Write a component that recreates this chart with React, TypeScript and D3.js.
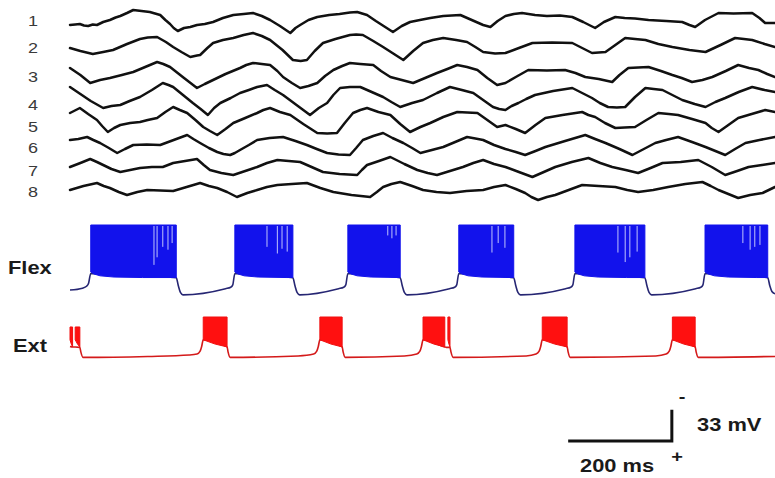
import React from 'react';
import * as d3 from 'd3';

// ---------- DATA ----------
// time axis (ms)
const timeDomain: [number, number] = [0, 1360];

const channelLabels = ['1', '2', '3', '4', '5', '6', '7', '8'];

// EEG-like traces: [time ms, amplitude (a.u., up positive)]
const trace1: [number, number][] = [[0,-5],[10,-4.5],[19,-4],[27,-5.5],[35,-6],[44,-4.5],[52,-5],[64,-2],[77,0],[88,2.5],[97,4],[110,7],[122,10],[138,9],[154,8],[164,6.5],[174,5],[184,0],[193,-4],[200,-8],[208,-11],[220,-8],[232,-7],[245,-5],[260,-4],[276,-2],[295,2],[315,5],[335,6],[353,7],[370,4],[386,0],[405,-6],[425,-13],[435,-8],[444,-5],[460,0],[477,3],[500,5],[520,6],[540,7.5],[554,8],[573,5],[590,-1],[605,-6],[623,-12],[640,-6],[656,-2],[675,0],[695,2],[720,4],[753,5],[775,0],[797,-5],[811,-7],[825,-1],[840,4],[856,6],[872,7],[897,5],[920,4],[945,4.5],[969,3],[990,-2],[1013,-8],[1030,-2],[1052,3],[1070,2],[1090,1.5],[1116,0],[1150,-1],[1181,-2],[1195,-5],[1206,-7],[1225,0],[1251,7],[1280,6.5],[1316,7],[1330,2],[1341,-3],[1360,-3]];
const trace2: [number, number][] = [[0,-3],[20,-6],[44,-9],[64,-7],[83,-5],[110,1],[135,6],[150,7.5],[168,8],[185,3],[199,-2],[215,-7],[232,-12],[245,-10.5],[251,-10],[265,-3],[276,2],[295,5],[315,7],[335,10],[353,12],[370,9],[386,5],[410,-5],[430,-15],[445,-16],[457,-15],[472,-6],[488,2],[512,6],[540,10],[552,10.5],[565,10],[585,4],[604,-2],[625,-9],[643,-15],[662,-6],[681,2],[700,5],[720,7],[745,5],[766,3],[782,-2],[797,-7],[820,-8.5],[840,-8],[866,-3],[892,2],[930,2.5],[969,2],[988,-3],[1007,-8],[1020,-7.5],[1033,-7],[1052,0],[1071,7],[1090,6],[1110,5],[1135,1],[1162,-2],[1195,-5],[1226,-7],[1255,0],[1283,7],[1300,6],[1316,5],[1340,1],[1360,-2]];
const trace3: [number, number][] = [[0,7],[20,0],[39,-8],[58,-5],[77,-3],[100,0],[122,3],[145,8],[168,13],[180,11],[193,8],[220,-3],[245,-13],[260,-9],[276,-5],[300,1],[328,7],[340,10],[353,12],[370,11],[386,10],[400,4],[411,-2],[428,-8],[444,-13],[460,-11],[477,-8],[492,-1],[508,5],[525,9],[540,12],[560,11],[585,10],[600,4],[618,-2],[640,-5],[662,-8],[685,-3],[708,2],[728,6],[747,10],[766,8],[786,5],[805,-3],[824,-10],[832,-9],[840,-8],[860,-2],[884,5],[920,4.5],[955,5],[975,2],[994,-2],[1020,-4],[1046,-7],[1060,0],[1077,7],[1096,7.5],[1116,8],[1140,4],[1162,0],[1180,-3],[1200,-7],[1220,-5],[1239,-2],[1265,4],[1289,10],[1310,7],[1328,5],[1345,1],[1360,-2]];
const trace4: [number, number][] = [[0,10],[20,3],[40,-4],[64,-11],[80,-9],[97,-8],[115,-4],[135,0],[158,7],[179,14],[190,12],[199,10],[218,2],[237,-6],[252,-12],[266,-18],[278,-11],[290,-6],[310,-1],[328,4],[345,7],[361,10],[380,12],[395,7],[411,2],[437,-8],[463,-18],[480,-11],[496,-6],[508,2],[521,9],[540,10],[560,10],[582,5],[604,0],[620,-5],[637,-10],[660,-6],[681,-3],[708,4],[733,10],[756,7],[778,4],[797,-3],[816,-10],[828,-12],[840,-13],[852,-9],[865,-6],[880,-2],[897,2],[932,6],[969,9],[988,4],[1007,-1],[1022,-6],[1038,-10],[1055,-10.5],[1071,-10],[1090,0],[1110,9],[1126,8],[1143,7],[1162,2],[1181,-3],[1205,-7],[1226,-10],[1245,-5],[1264,-1],[1290,5],[1316,10],[1340,7],[1360,5]];
const trace5: [number, number][] = [[0,7],[19,12],[35,6],[52,0],[62,-6],[73,-12],[85,-8],[97,-5],[116,-3],[135,-2],[150,0],[168,2],[184,8],[199,13],[212,10],[226,7],[242,0],[257,-7],[270,-11],[284,-15],[300,-9],[315,-3],[338,2],[361,7],[373,10],[386,12],[405,8],[425,5],[450,-4],[477,-13],[496,-13.5],[515,-13],[530,-3],[546,7],[560,10],[573,12],[595,8],[618,5],[637,-4],[656,-12],[676,-7],[695,-3],[720,3],[747,8],[766,7.5],[786,7],[805,0],[824,-7],[832,-6],[840,-5],[860,-9],[878,-13],[898,-5],[917,2],[950,5],[988,8],[1000,5],[1013,3],[1032,-3],[1052,-8],[1070,-7.5],[1090,-7],[1112,0],[1135,7],[1155,6],[1173,5],[1200,1],[1226,-3],[1238,-8],[1251,-12],[1270,-5],[1289,2],[1315,6],[1341,10],[1360,8]];
const trace6: [number, number][] = [[0,5],[16,6],[33,8],[45,5],[58,2],[75,-3],[91,-8],[106,-4],[122,0],[148,0.5],[174,0],[200,5],[226,10],[238,6],[251,2],[268,-3],[284,-7],[296,-9],[309,-10],[318,-8],[328,-5],[345,0],[361,5],[385,7],[411,8],[435,4],[457,0],[476,-4],[496,-8],[518,-9.5],[540,-10],[552,-3],[565,5],[585,9],[604,12],[622,7],[643,2],[660,-3],[676,-8],[698,-5],[720,-2],[743,3],[766,8],[782,6.5],[797,5],[818,0],[840,-4],[860,-7],[878,-10],[898,-6],[917,-2],[955,4],[994,10],[1013,6],[1033,2],[1060,-4],[1085,-10],[1107,-4],[1129,2],[1150,5],[1173,8],[1200,3],[1226,-2],[1245,-6],[1264,-10],[1283,-4],[1303,2],[1330,5],[1360,8]];
const trace7: [number, number][] = [[0,0],[20,4],[39,8],[52,5],[64,2],[80,-2],[97,-5],[116,-3],[135,-1],[158,0],[179,0],[199,4],[222,6],[245,8],[258,2],[270,-3],[292,-6],[315,-8],[338,-4],[361,0],[380,4],[400,7],[422,6],[444,5],[466,0],[488,-5],[520,-7],[554,-8],[563,-3],[573,2],[596,6],[618,10],[645,3],[670,-3],[690,-6],[708,-8],[733,-4],[758,0],[778,4],[797,7],[818,3],[840,0],[866,-5],[892,-10],[914,-5],[936,0],[968,5],[1000,9],[1023,4],[1046,0],[1072,-3],[1096,-6],[1120,-1],[1143,4],[1178,5],[1212,7],[1238,0],[1264,-8],[1287,-4],[1309,0],[1335,2],[1360,4]];
const trace8: [number, number][] = [[0,0],[26,4],[52,7],[65,4],[77,2],[94,-2],[110,-5],[130,-2],[149,0],[174,-0.5],[199,-1],[225,3],[251,7],[268,4],[284,2],[303,-2],[322,-7],[342,-3],[361,0],[380,3],[400,5],[428,6],[457,7],[483,2],[508,-2],[543,-5],[579,-7],[592,-2],[604,3],[620,6],[637,8],[660,4],[681,0],[707,-2],[733,-3],[765,-1],[797,0],[818,3],[840,5],[860,1],[878,-3],[890,-7],[903,-10],[920,-7],[936,-5],[962,0],[988,5],[1020,4],[1052,3],[1075,0],[1096,-2],[1125,0],[1154,3],[1187,6],[1220,8],[1236,4],[1251,0],[1270,-4],[1289,-8],[1312,-5],[1336,-3],[1360,3]];
const eegTraces = [trace1, trace2, trace3, trace4, trace5, trace6, trace7, trace8];

// Flexor motoneuron: bursts [start ms, end ms, peak mV]
const flexBursts: [number, number, number][] = [[40,205,20],[318,430,20],[536,637,20],[750,856,20],[974,1109,20],[1225,1346,20]];
// lower envelope within a burst: [ms after burst onset, mV]
const flexEnvelope: [number, number][] = [[0,-29.5],[6,-31.5],[18,-33.5],[45,-34.8],[100,-35.3]];
// membrane potential between bursts: [ms, mV]
const flexBaseline: [number, number][] = [
  [0,-48.5],[24,-46.5],[32,-44.5],[36,-41],[40,-31],
  [205,-35.5],[209,-44],[213,-51],[218,-53.5],[300,-47],[310,-45.5],[314,-43],[318,-31],
  [430,-35.5],[434,-44],[438,-51],[443,-53.5],[518,-47],[528,-45.5],[532,-43],[536,-31],
  [637,-35.5],[641,-44],[645,-51],[650,-53.5],[732,-47],[742,-45.5],[746,-43],[750,-31],
  [856,-35.5],[860,-44],[864,-51],[869,-53.5],[956,-47],[966,-45.5],[970,-43],[974,-31],
  [1109,-35.5],[1113,-44],[1117,-51],[1122,-53.5],[1207,-47],[1217,-45.5],[1221,-43],[1225,-31],
  [1346,-35.5],[1350,-44],[1354,-50],[1360,-52.5]
];
// missed spikes inside flexor bursts: [ms, mV reached]
const flexMissed: [number, number][] = [[162,-22],[168,-14],[179,-3],[189,-6],[197,1],[380,-3],[400,-10],[409,-5],[419,-8],[613,9],[621,6],[629,9],[814,-9],[826,1],[839,-4],[1057,-9],[1071,-19],[1080,-14],[1094,-8],[1298,1],[1312,-6],[1321,-3],[1331,-1]];

// Extensor motoneuron
const extBursts: [number, number, number][] = [[0,5,9.5],[10,19,9.5],[257,303,20],[482,525,20],[681,723,20],[729,733,20],[911,959,20],[1162,1206,20]];
// envelope as [fraction of burst, mV]
const extEnvelope: [number, number][] = [[0,-4],[0.5,-8.5],[1,-11.5]];
const extBaseline: [number, number][] = [
  [0,-11],[5,-11.5],[10,-11.5],[19,-12],[21,-17],[25,-22.5],[150,-21.5],[230,-20],[245,-19],[251,-16],[254,-11],[257,-4],
  [303,-11.5],[305,-17],[309,-22.5],[440,-21],[470,-19],[476,-16],[479,-11],[482,-4],
  [525,-11.5],[527,-17],[531,-22.5],[645,-21],[669,-19],[675,-16],[678,-11],[681,-4],
  [723,-11.5],[726,-12],[729,-12],[733,-12],[735,-17],[739,-22.5],[880,-21],[899,-19],[905,-16],[908,-11],[911,-4],
  [959,-11.5],[961,-17],[965,-22.5],[1130,-21],[1150,-19],[1156,-16],[1159,-11],[1162,-4],
  [1206,-11.5],[1208,-17],[1212,-22.5],[1360,-21.5]
];

// scale bars
const scaleBarTimeMs = 200;
const scaleBarVoltMv = 33;
const scaleBarLabels = ['200 ms', '33 mV'];

// ---------- LAYOUT ----------
const W = 775;
const H = 478;
const TRACE_BASE = [20, 45, 75, 97, 120, 145, 167, 190];
const LABEL_BASELINE = [26, 53, 82, 110, 132, 153, 176, 197];
const FONT = "'Liberation Sans', Arial, Helvetica, sans-serif";

export default function App() {
  const x = d3.scaleLinear().domain(timeDomain).range([70, 775]);
  const yFlex = d3.scaleLinear().domain([-60, 20]).range([301, 225]);
  const yExt = d3.scaleLinear().domain([-60, 20]).range([393, 317]);

  const eegPaths = eegTraces.map((tr, i) => {
    const y = d3.scaleLinear().domain([-20, 20]).range([TRACE_BASE[i] + 20, TRACE_BASE[i] - 20]);
    return d3.line<[number, number]>().x(d => x(d[0])).y(d => y(d[1])).curve(d3.curveLinear)(tr) || '';
  });

  const burstPath = (
    b: [number, number, number],
    env: [number, number][],
    yS: d3.ScaleLinear<number, number>,
    fractional: boolean
  ) => {
    const [s, e, peak] = b;
    const dur = e - s;
    let envPts: [number, number][];
    if (fractional) {
      envPts = env.map(([f, v]) => [s + f * dur, v] as [number, number]);
    } else {
      envPts = env.filter(([dt]) => dt < dur).map(([dt, v]) => [s + dt, v] as [number, number]);
      envPts.push([e, env[env.length - 1][1]]);
    }
    const pts: [number, number][] = [[s, peak], [e, peak], ...envPts.slice().reverse()];
    return (d3.line<[number, number]>().x(d => x(d[0])).y(d => yS(d[1]))(pts) || '') + 'Z';
  };

  const flexLine = d3.line<[number, number]>().x(d => x(d[0])).y(d => yFlex(d[1])).curve(d3.curveMonotoneX)(flexBaseline) || '';
  const extLine = d3.line<[number, number]>().x(d => x(d[0])).y(d => yExt(d[1])).curve(d3.curveMonotoneX)(extBaseline) || '';

  // scale bar geometry from scales
  const barEndT = 961 + scaleBarTimeMs;
  const barX0 = x(961);
  const barX1 = x(barEndT);
  const barY = 441;
  const mvPx = yFlex(0) - yFlex(scaleBarVoltMv);
  const barTop = barY - mvPx;

  return (
    <svg width={W} height={H} style={{ position: 'absolute', left: 0, top: 0, background: '#fff' }}>
      <rect width={W} height={H} fill="#ffffff" />
      {/* channel labels */}
      {channelLabels.map((lab, i) => (
        <text key={lab} transform={`translate(33,${LABEL_BASELINE[i]}) scale(1.2,1)`} textAnchor="middle"
          fontFamily={FONT} fontSize={15} fill="#3a3a3a">{lab}</text>
      ))}
      {/* EEG traces */}
      {eegPaths.map((d, i) => (
        <path key={i} d={d} fill="none" stroke="#111" strokeWidth={2.5} strokeLinejoin="round" strokeLinecap="round" />
      ))}

      {/* Flex */}
      <text transform="translate(8,274) scale(1.25,1)" fontFamily={FONT} fontWeight="bold" fontSize={17.5} fill="#1a1a1a">Flex</text>
      <path d={flexLine} fill="none" stroke="#262673" strokeWidth={1.6} />
      {flexBursts.map((b, i) => (
        <path key={i} d={burstPath(b, flexEnvelope, yFlex, false)} fill="#1212ec" stroke="#1212ec" strokeWidth={1} />
      ))}
      {flexMissed.map(([t, v], i) => (
        <line key={i} x1={x(t)} x2={x(t)} y1={yFlex(20) + 1} y2={yFlex(v)} stroke="#dfe3ff" strokeWidth={1} opacity={0.85} />
      ))}

      {/* Ext */}
      <text transform="translate(13,352) scale(1.25,1)" fontFamily={FONT} fontWeight="bold" fontSize={17.5} fill="#1a1a1a">Ext</text>
      <path d={extLine} fill="none" stroke="#d41a1a" strokeWidth={1.6} />
      {extBursts.map((b, i) => (
        <path key={i} d={burstPath(b, extEnvelope, yExt, true)} fill="#ff1010" stroke="#f01010" strokeWidth={1} />
      ))}

      {/* scale bar */}
      <path d={`M${barX0},${barY}H${barX1}V${barTop}`} fill="none" stroke="#111" strokeWidth={3} />
      <text transform={`translate(697,431) scale(1.25,1)`} fontFamily={FONT} fontWeight="bold" fontSize={17.5} fill="#1a1a1a">{scaleBarLabels[1]}</text>
      <text transform={`translate(580,472) scale(1.25,1)`} fontFamily={FONT} fontWeight="bold" fontSize={17.5} fill="#1a1a1a">{scaleBarLabels[0]}</text>
      <text transform={`translate(682,402) scale(1.25,1)`} textAnchor="middle" fontFamily={FONT} fontWeight="bold" fontSize={16} fill="#1a1a1a">-</text>
      <text transform={`translate(677,462) scale(1.25,1)`} textAnchor="middle" fontFamily={FONT} fontWeight="bold" fontSize={16} fill="#1a1a1a">+</text>
    </svg>
  );
}
